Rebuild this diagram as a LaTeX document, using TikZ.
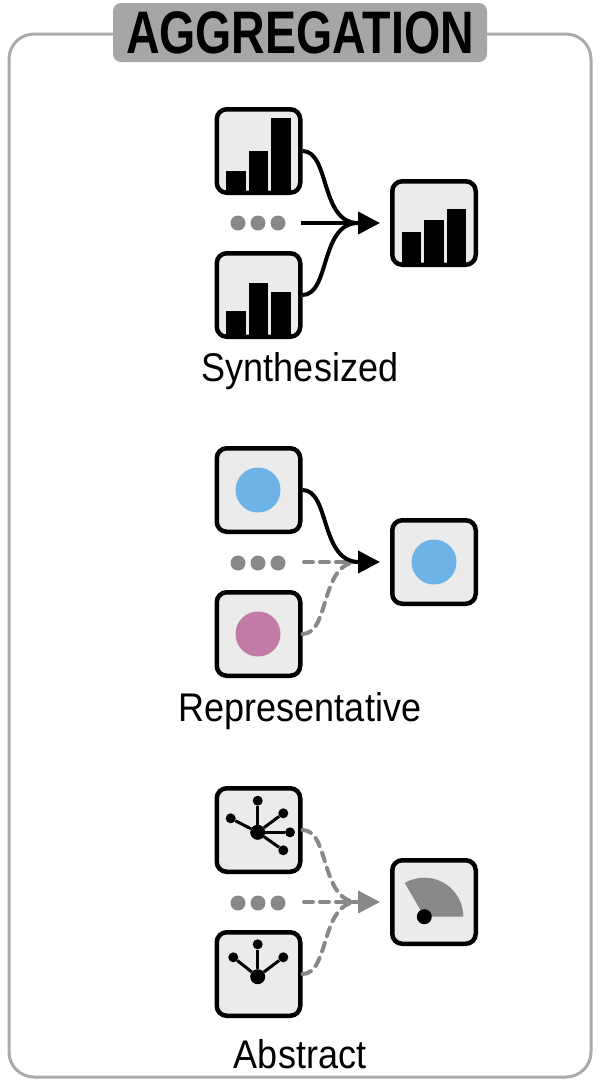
\documentclass[tikz,border=0pt]{standalone}
\usepackage{fontspec}
\setmainfont[FakeStretch=0.9]{Liberation Sans}
\newfontfamily\titlefont[FakeStretch=0.775]{Liberation Sans}
\usetikzlibrary{arrows.meta}
\definecolor{framegray}{HTML}{AAAAAA}
\definecolor{titlegray}{HTML}{A6A6A6}
\definecolor{cellgray}{HTML}{EBEBEB}
\definecolor{midgray}{HTML}{888888}
\definecolor{dotblue}{HTML}{6DB3E6}
\definecolor{dotpink}{HTML}{C17BA6}
\tikzset{
  cell/.style={draw=black,fill=cellgray,line width=4.5pt,rounded corners=10pt,minimum size=83.5pt,inner sep=0pt},
  caption/.style={font=\fontsize{40}{40}\selectfont,inner sep=0pt,anchor=base},
  dotnode/.style={circle,fill=midgray,minimum size=15pt,inner sep=0pt},
  solidflow/.style={line width=4pt,black},
  dashflow/.style={line width=4pt,midgray,line cap=round,dash pattern=on 9pt off 7pt},
  solidtip/.style={line width=4pt,black,-{Triangle[length=22pt,width=22pt,black]}},
  graytip/.style={line width=4pt,midgray,-{Triangle[length=22pt,width=22pt,midgray]}},
  leaf/.style={circle,fill=black,minimum size=10pt,inner sep=0pt},
  hub/.style={circle,fill=black,minimum size=15pt,inner sep=0pt},
  spoke/.style={line width=3pt,black},
}
\begin{document}
\begin{tikzpicture}[x=1pt,y=-1pt]
\useasboundingbox (0,0) rectangle (600,1080);

% frame and title
\draw[framegray,line width=3pt,rounded corners=25pt] (9,34) rectangle (591,1077);
\node[fill=titlegray,rounded corners=8pt,minimum width=374pt,minimum height=59pt,inner sep=0pt,font=\titlefont\fontsize{60}{60}\selectfont\bfseries] (title) at (300,32.5) {AGGREGATION};

% synthesized
\node[cell] (syna) at (258.5,151) {};
\node[cell] (synb) at (258.5,295) {};
\node[cell] (sync) at (434,223) {};
\fill (226,170.7) rectangle (246,191);
\fill (249,151) rectangle (268,191);
\fill (271,118) rectangle (291,191);
\fill (226,311) rectangle (246,335);
\fill (249,283) rectangle (268,335);
\fill (271,292) rectangle (291,335);
\fill (402,232) rectangle (421,263);
\fill (424,220) rectangle (444,263);
\fill (447,209) rectangle (466,263);
\node[dotnode] (syndota) at (238,223) {};
\node[dotnode] (syndotb) at (258,223) {};
\node[dotnode] (syndotc) at (278,223) {};
\coordinate (synstart) at (301,223);
\coordinate (synhub) at (358,223);
\coordinate (syntip) at (380,223);
\draw[solidflow] (syna.east) .. controls (330,151) and (320,223) .. (synhub);
\draw[solidflow] (synb.east) .. controls (330,295) and (320,223) .. (synhub);
\draw[solidtip] (synstart) -- (syntip);
\node[caption] (syntext) at (300,381) {Synthesized};

% representative
\node[cell] (repa) at (258.5,490) {};
\node[cell] (repb) at (258.5,634) {};
\node[cell] (repc) at (434,562) {};
\fill[dotblue] (258,490) circle (22.5);
\fill[dotpink] (258,634) circle (22.5);
\fill[dotblue] (434,562) circle (22.5);
\node[dotnode] (repdota) at (238,563) {};
\node[dotnode] (repdotb) at (258,563) {};
\node[dotnode] (repdotc) at (278,563) {};
\coordinate (repstart) at (304,562);
\coordinate (rephub) at (358,562);
\coordinate (reptip) at (380,562);
\draw[dashflow] (repstart) -- (rephub);
\draw[dashflow] (repb.east) .. controls (330,634) and (320,562) .. (rephub);
\draw[solidtip] (repa.east) .. controls (330,490) and (320,562) .. (reptip);
\node[caption] (reptext) at (300,721.5) {Representative};

% abstract
\node[cell] (absa) at (258.5,830) {};
\node[cell] (absb) at (258.5,974) {};
\node[cell] (absc) at (434,902) {};
\node[hub] (hubtop) at (257.7,832.3) {};
\foreach \name/\px/\py in {la/257.7/800.7,lb/283.3/813.3,lc/230.7/818.3,ld/290/832.3,le/283.3/850.3}{
  \node[leaf] (\name) at (\px,\py) {};
  \draw[spoke] (hubtop) -- (\name);
}
\node[hub] (hubbot) at (257.7,976.7) {};
\foreach \name/\px/\py in {lf/257.7/944.3,lg/233.3/957.3,lh/283.3/957.3}{
  \node[leaf] (\name) at (\px,\py) {};
  \draw[spoke] (hubbot) -- (\name);
}
\fill[midgray] (424.3,916.7) -- (463.3,916.7) arc (0:-120:39) -- cycle;
\node[hub] (gauge) at (424.3,916.7) {};
\node[dotnode] (absdota) at (238,903) {};
\node[dotnode] (absdotb) at (258,903) {};
\node[dotnode] (absdotc) at (278,903) {};
\coordinate (absstart) at (304,902);
\coordinate (abshub) at (358,902);
\coordinate (abstip) at (380,902);
\draw[dashflow] (absa.east) .. controls (330,830) and (320,902) .. (abshub);
\draw[dashflow] (absb.east) .. controls (330,974) and (320,902) .. (abshub);
\draw[dashflow] (absstart) -- (abshub);
\draw[graytip] (abshub) -- (abstip);
\node[caption] (abstext) at (300,1068) {Abstract};
\end{tikzpicture}
\end{document}
